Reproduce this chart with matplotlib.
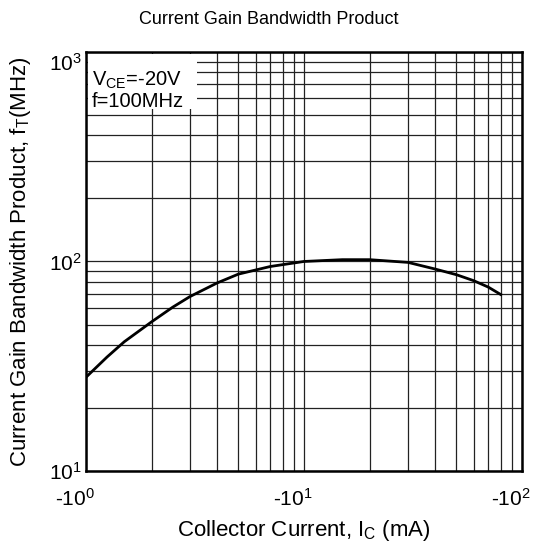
import matplotlib
matplotlib.use('Agg')
from matplotlib import pyplot as plt
from matplotlib.patches import Rectangle
from matplotlib.ticker import FixedLocator, LogLocator, NullFormatter
import matplotlib.transforms as mtrans

plt.rcParams['font.family'] = ['Liberation Sans', 'DejaVu Sans']
plt.rcParams['mathtext.fontset'] = 'custom'
plt.rcParams['mathtext.rm'] = 'Liberation Sans'
plt.rcParams['mathtext.it'] = 'Liberation Sans:italic'
plt.rcParams['mathtext.default'] = 'regular'

# collector current magnitude (mA) and fT (MHz)
ic = [1, 1.25, 1.5, 2, 2.5, 3, 4, 5, 7, 10, 15, 20, 30, 40, 50, 60, 70, 80]
ft = [28, 35, 41.4, 51.5, 60.5, 68, 79, 87, 94.6, 100, 102, 102, 99, 92, 86.5, 81, 75.5, 69.5]

xticks = [1, 10, 100]
xticklabels = ['-10$^{0}$', '-10$^{1}$', '-10$^{2}$']
yticks = [10, 100, 1000]
yticklabels = ['10$^{1}$', '10$^{2}$', '10$^{3}$']

fig = plt.figure(figsize=(5.37, 5.5), dpi=100)
ax = fig.add_axes([0.160, 0.1436, 0.812, 0.762])

ax.set_xscale('log')
ax.set_yscale('log')
ax.set_xlim(1, 100)
ax.set_ylim(10, 1000)

ax.xaxis.set_major_locator(FixedLocator(xticks))
ax.set_xticklabels(xticklabels)
ax.yaxis.set_major_locator(FixedLocator(yticks))
ax.set_yticklabels(yticklabels)
ax.xaxis.set_minor_locator(LogLocator(base=10, subs=range(2, 10)))
ax.yaxis.set_minor_locator(LogLocator(base=10, subs=range(2, 10)))
ax.xaxis.set_minor_formatter(NullFormatter())
ax.yaxis.set_minor_formatter(NullFormatter())

ax.grid(True, which='both', color='#222222', linewidth=0.9)
ax.tick_params(which='both', direction='in', length=0, labelsize=15)
ax.tick_params(axis='x', pad=12)
ax.tick_params(axis='y', pad=3)
for s in ax.spines.values():
    s.set_linewidth(1.8)

# nudge tick labels like the original
for lab in ax.get_xticklabels():
    lab.set_transform(lab.get_transform() + mtrans.ScaledTranslation(-0.11, 0, fig.dpi_scale_trans))
ylabs = ax.get_yticklabels()
ylabs[2].set_transform(ylabs[2].get_transform() + mtrans.ScaledTranslation(0, -0.1, fig.dpi_scale_trans))

ax.plot(ic, ft, color='black', linewidth=2.0, zorder=3)

ax.add_patch(Rectangle((0.004, 0.864), 0.251, 0.132, transform=ax.transAxes,
                       facecolor='white', edgecolor='none', zorder=4))
ax.text(0.014, 0.957, 'V$_{CE}$=-20V\nf=100MHz', transform=ax.transAxes,
        fontsize=14.5, va='top', ha='left', linespacing=1.05, zorder=5)

fig.text(0.5, 1 - 20 / 550, 'Current Gain Bandwidth Product', fontsize=13, ha='center', va='center')
ax.set_xlabel('Collector Current, I$_{C}$ (mA)', fontsize=16, labelpad=6)
ax.set_ylabel('Current Gain Bandwidth Product, f$_{T}$(MHz)', fontsize=16)
ax.yaxis.set_label_coords(-0.122, 0.5)

fig.savefig('out.png', dpi=100)
